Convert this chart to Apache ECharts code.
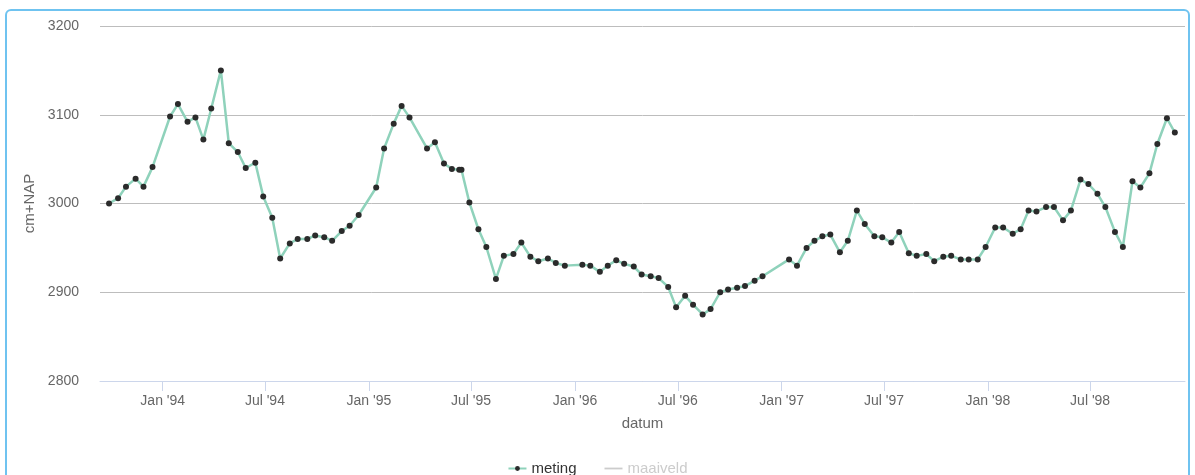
<!DOCTYPE html>
<html>
<head>
<meta charset="utf-8">
<script src="https://cdn.jsdelivr.net/npm/echarts@6/dist/echarts.min.js"></script>
<style>
  html, body { margin: 0; padding: 0; background: #fff; }
  #chart { position: absolute; left: 0; top: 0; width: 1195px; height: 475px; }
  #frame { position: absolute; left: 5px; top: 9px; right: 5px; bottom: -20px;
           border: 2px solid #6fc3f0; border-radius: 6px; pointer-events: none; }
</style>
</head>
<body>
<div id="chart"></div>
<div id="frame"></div>
<script>
const dates = [
  '1993-09-28','1993-10-14','1993-10-28','1993-11-14','1993-11-28','1993-12-14',
  '1994-01-14','1994-01-28','1994-02-14','1994-02-28','1994-03-14','1994-03-28','1994-04-14','1994-04-28',
  '1994-05-14','1994-05-28','1994-06-14','1994-06-28','1994-07-14','1994-07-28','1994-08-14','1994-08-28',
  '1994-09-14','1994-09-28','1994-10-14','1994-10-28','1994-11-14','1994-11-28','1994-12-14',
  '1995-01-14','1995-01-28','1995-02-14','1995-02-28','1995-03-14','1995-04-14','1995-04-28','1995-05-14',
  '1995-05-28','1995-06-10','1995-06-14','1995-06-28','1995-07-14','1995-07-28','1995-08-14','1995-08-28',
  '1995-09-14','1995-09-28','1995-10-14','1995-10-28','1995-11-14','1995-11-28','1995-12-14',
  '1996-01-14','1996-01-28','1996-02-14','1996-02-28','1996-03-14','1996-03-28','1996-04-14','1996-04-28',
  '1996-05-14','1996-05-28','1996-06-14','1996-06-28','1996-07-14','1996-07-28','1996-08-14','1996-08-28',
  '1996-09-14','1996-09-28','1996-10-14','1996-10-28','1996-11-14','1996-11-28',
  '1997-01-14','1997-01-28','1997-02-14','1997-02-28','1997-03-14','1997-03-28','1997-04-14','1997-04-28',
  '1997-05-14','1997-05-28','1997-06-14','1997-06-28','1997-07-14','1997-07-28','1997-08-14','1997-08-28',
  '1997-09-14','1997-09-28','1997-10-14','1997-10-28','1997-11-14','1997-11-28','1997-12-14','1997-12-28',
  '1998-01-14','1998-01-28','1998-02-14','1998-02-28','1998-03-14','1998-03-28','1998-04-14','1998-04-28',
  '1998-05-14','1998-05-28','1998-06-14','1998-06-28','1998-07-14','1998-07-28','1998-08-14','1998-08-28',
  '1998-09-14','1998-09-28','1998-10-14','1998-10-28','1998-11-14','1998-11-28'
];
const meting = [
  3000, 3006, 3019, 3028, 3019, 3041,
  3098, 3112, 3092, 3097, 3072, 3107, 3150, 3068,
  3058, 3040, 3046, 3008, 2984, 2938, 2955, 2960,
  2960, 2964, 2962, 2958, 2969, 2975, 2987,
  3018, 3062, 3090, 3110, 3097, 3062, 3069, 3045,
  3039, 3038, 3038, 3001, 2971, 2951, 2915, 2941,
  2943, 2956, 2940, 2935, 2938, 2933, 2930,
  2931, 2930, 2923, 2930, 2936, 2932, 2929, 2920,
  2918, 2916, 2906, 2883, 2896, 2886, 2875, 2881,
  2900, 2903, 2905, 2907, 2913, 2918,
  2937, 2930, 2950, 2958, 2963, 2965, 2945, 2958,
  2992, 2977, 2963, 2962, 2956, 2968, 2944, 2941,
  2943, 2935, 2940, 2941, 2937, 2937, 2937, 2951,
  2973, 2973, 2966, 2971, 2992, 2991, 2996, 2996,
  2981, 2992, 3027, 3022, 3011, 2996, 2968, 2951,
  3025, 3018, 3034, 3067, 3096, 3080
];
const maaiveld = [];
const tickDates = ['1994-01-01','1994-07-01','1995-01-01','1995-07-01','1996-01-01','1996-07-01',
                   '1997-01-01','1997-07-01','1998-01-01','1998-07-01'];
const tickLabels = ["Jan '94","Jul '94","Jan '95","Jul '95","Jan '96","Jul '96",
                    "Jan '97","Jul '97","Jan '98","Jul '98"];
const yTicks = [2800, 2900, 3000, 3100, 3200];

const ts = s => { const p = s.split('-').map(Number); return Date.UTC(p[0], p[1] - 1, p[2]); };
const tickValues = tickDates.map(ts);
const FONT = '"Liberation Sans", Arial, sans-serif';

const chart = echarts.init(document.getElementById('chart'), null, { renderer: 'canvas' });
chart.setOption({
  animation: false,
  backgroundColor: '#fff',
  textStyle: { fontFamily: FONT },
  grid: { left: 100, right: 10, top: 26, bottom: 94, containLabel: false },
  legend: {
    top: 456, left: 'center',
    itemWidth: 18, itemHeight: 6, itemGap: 28,
    data: [
      { name: 'meting' },
      { name: 'maaiveld', icon: 'path://M0,0 L20,0 L20,2 L0,2 Z' }
    ],
    selected: { meting: true, maaiveld: false },
    inactiveColor: '#cccccc',
    textStyle: { fontSize: 15, color: '#333', fontFamily: FONT }
  },
  xAxis: {
    type: 'value',
    min: ts('1993-09-12'),
    max: ts('1998-12-16'),
    name: 'datum',
    nameLocation: 'middle',
    nameGap: 35,
    nameTextStyle: { color: '#666', fontSize: 15, fontFamily: FONT },
    axisLine: { show: true, lineStyle: { color: '#ccd6eb', width: 1 } },
    axisTick: { show: true, length: 10, lineStyle: { color: '#ccd6eb' }, customValues: tickValues },
    axisLabel: {
      customValues: tickValues,
      color: '#666', fontSize: 14, fontFamily: FONT, margin: 13,
      formatter: v => { const i = tickValues.indexOf(v); return i >= 0 ? tickLabels[i] : ''; }
    },
    splitLine: { show: false }
  },
  yAxis: {
    type: 'value',
    min: yTicks[0], max: yTicks[yTicks.length - 1], interval: 100,
    name: 'cm+NAP',
    nameLocation: 'middle',
    nameRotate: 90,
    nameGap: 57,
    nameTextStyle: { color: '#666', fontSize: 15, fontFamily: FONT },
    axisLine: { show: false },
    axisTick: { show: false },
    axisLabel: { color: '#666', fontSize: 14, fontFamily: FONT, margin: 21, formatter: v => String(v) },
    splitLine: { show: true, lineStyle: { color: '#bdbdbd', width: 1 } }
  },
  series: [
    {
      name: 'meting',
      type: 'line',
      data: dates.map((d, i) => [ts(d), meting[i]]),
      showSymbol: true,
      showAllSymbol: true,
      symbol: 'circle',
      symbolSize: 6,
      itemStyle: { color: '#2b2b2b', borderWidth: 0 },
      lineStyle: { color: '#8fd2bb', width: 2.5 },
      emphasis: { disabled: true },
      z: 3
    },
    {
      name: 'maaiveld',
      type: 'line',
      data: maaiveld,
      symbol: 'none',
      itemStyle: { color: '#999999' },
      lineStyle: { color: '#999999', width: 2 }
    }
  ]
});
</script>
</body>
</html>
